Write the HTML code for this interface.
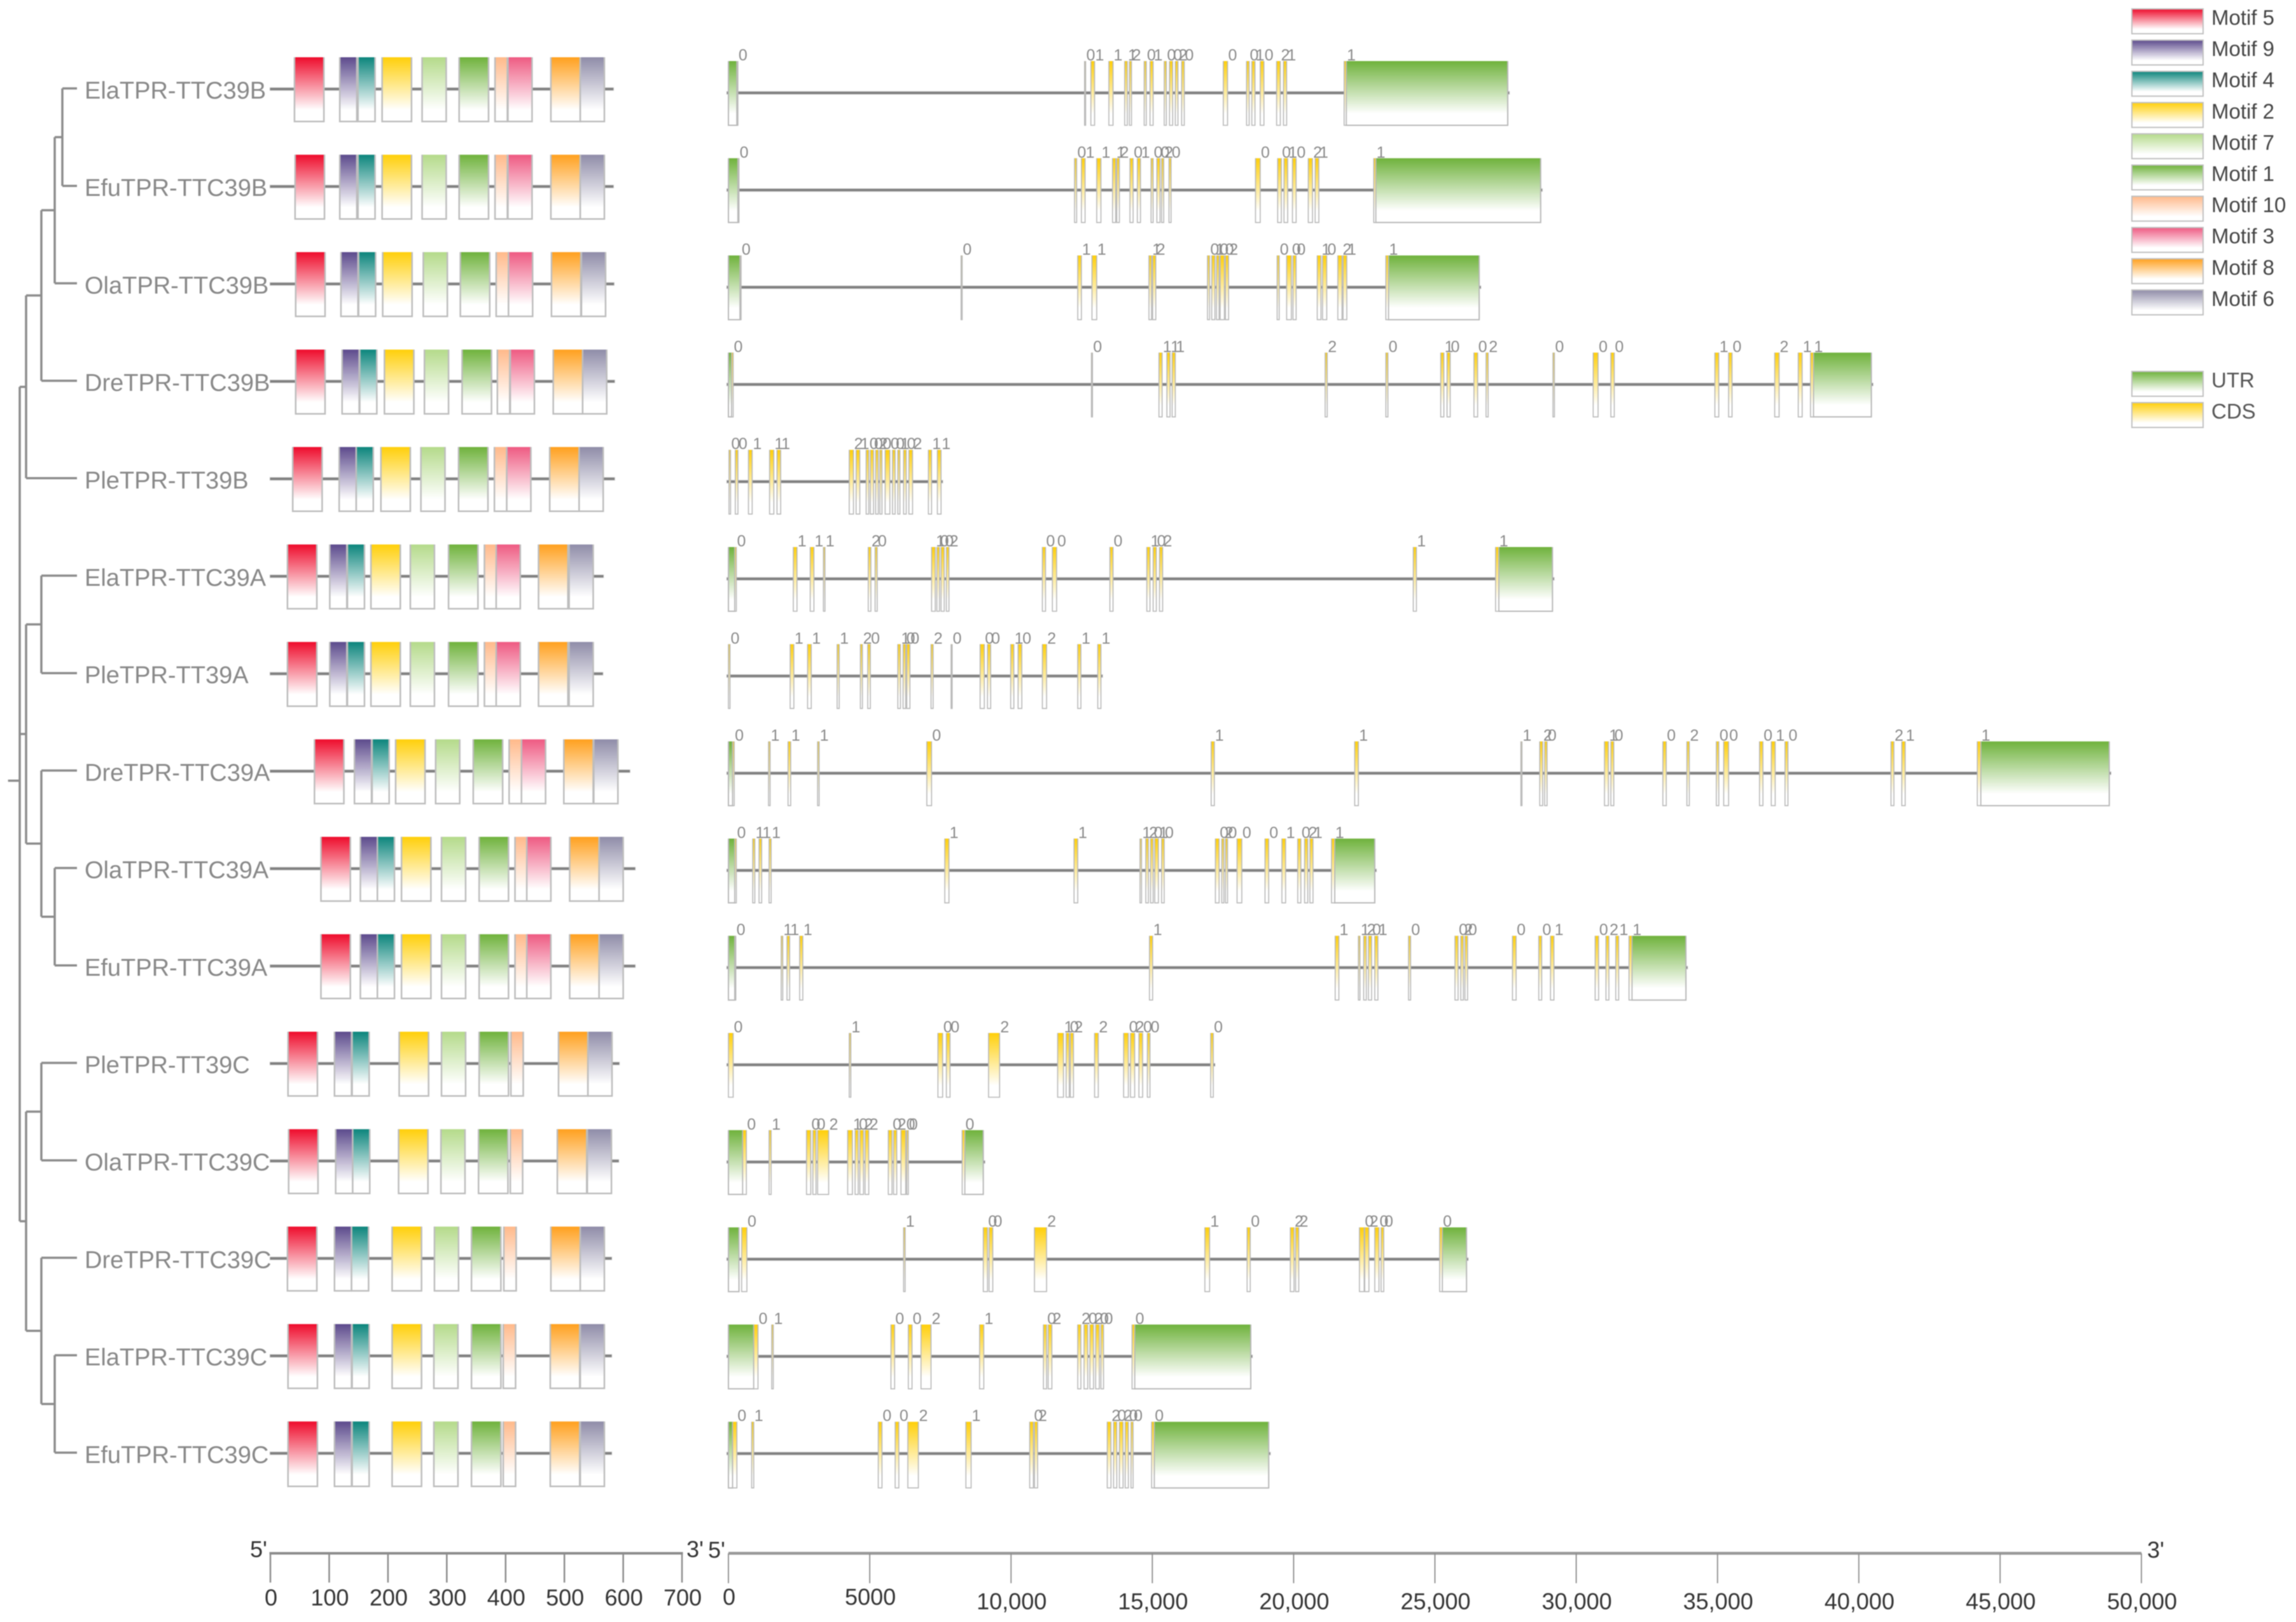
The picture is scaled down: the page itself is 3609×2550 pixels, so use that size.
<!DOCTYPE html>
<html lang="en">
<head>
<meta charset="utf-8">
<title>TTC39 gene family structure</title>
<style>
html,body{margin:0;padding:0;background:#fff;}
svg{display:block;font-family:"Liberation Sans",sans-serif;filter:blur(0.7px);}
</style>
</head>
<body>
<svg id="chart" xmlns="http://www.w3.org/2000/svg" width="3609" height="2550" viewBox="0 0 3609 2550">
<rect width="3609" height="2550" fill="#ffffff"/>
<defs id="grads"></defs>
</svg>
<script>
const geneNames = ['ElaTPR-TTC39B','EfuTPR-TTC39B','OlaTPR-TTC39B','DreTPR-TTC39B','PleTPR-TT39B','ElaTPR-TTC39A','PleTPR-TT39A','DreTPR-TTC39A','OlaTPR-TTC39A','EfuTPR-TTC39A','PleTPR-TT39C','OlaTPR-TTC39C','DreTPR-TTC39C','ElaTPR-TTC39C','EfuTPR-TTC39C'];

const motifIds = ['5','9','4','2','7','1','10','3','8','6'];
const motifLengths = [50,29,29,50,41,50,21,41,50,41];
const motifColors = ['#ee0c2c','#5c4a8c','#0c857c','#ffcf0a','#b4da8a','#6fb23c','#ffb98a','#ee5a82','#ffa01e','#8f8ca8'];
const proteinLengths = [584,584,585,586,586,567,566,612,621,621,594,593,581,581,581];
const motifStarts = [
[41,118,149,190,258,321,382,404,477,527],
[42,118,149,190,258,321,382,404,477,527],
[43,120,150,191,260,323,384,405,478,529],
[43,122,152,194,262,326,386,408,481,531],
[38,117,146,188,256,320,381,402,475,525],
[29,101,131,171,238,303,364,384,456,508],
[29,101,131,171,238,303,364,384,456,508],
[75,143,173,213,281,345,406,427,499,550],
[86,153,182,223,291,355,416,436,509,559],
[86,153,182,223,291,355,416,436,509,559],
[30,109,139,219,291,355,409,null,490,540],
[31,111,140,218,290,354,408,null,488,539],
[29,109,138,207,279,342,397,null,477,527],
[30,109,139,207,278,342,396,null,476,527],
[30,109,139,207,278,342,396,null,476,527]
];

const exonsElaB = [[299,336,0],[12602,12640,0],[12826,12957,1],[13461,13610,1],[14021,14115,1],[14189,14264,2],[14712,14787,0],[14918,15029,1],[15421,15496,0],[15608,15720,0],[15813,15907,2],[16037,16131,0],[17512,17662,0],[18334,18427,0],[18521,18633,1],[18819,18950,0],[19398,19529,2],[19641,19753,1],[21788,21862,1]];
const exonsEfuB = [[336,373,0],[12247,12322,0],[12490,12621,1],[13032,13181,1],[13592,13704,1],[13741,13834,2],[14208,14320,0],[14469,14581,1],[14955,15029,0],[15160,15272,0],[15328,15403,2],[15589,15664,0],[18651,18819,0],[19435,19566,0],[19659,19790,1],[19958,20089,0],[20518,20668,2],[20761,20892,1],[22834,22908,1]];
const exonsOlaB = [[411,448,0],[8233,8271,0],[12360,12490,1],[12864,13032,1],[14880,14973,1],[15011,15123,2],[16952,17027,0],[17102,17214,1],[17270,17363,0],[17400,17550,0],[17587,17699,2],[19417,19491,0],[19753,19921,0],[19977,20089,0],[20836,20967,1],[21023,21172,0],[21564,21713,2],[21750,21881,1],[23263,23356,1]];
const exonsDreB = [[112,168,0],[12845,12882,0],[15235,15347,1],[15515,15627,1],[15701,15813,1],[21116,21190,2],[23263,23337,0],[25205,25317,1],[25429,25541,0],[26381,26512,0],[26810,26885,2],[29177,29229,0],[30600,30774,0],[31225,31347,0],[34906,35045,1],[35392,35514,0],[37024,37180,2],[37857,37996,1],[38291,38395,1]];
const exonsPleB = [[19,75,0],[243,336,0],[709,840,1],[1456,1606,1],[1718,1848,1],[4275,4425,2],[4518,4649,1],[4873,4966,0],[5022,5134,0],[5209,5302,2],[5358,5433,0],[5545,5713,0],[5806,5900,0],[5993,6068,1],[6198,6292,0],[6385,6516,2],[7076,7188,1],[7393,7524,1]];
const exonsElaA = [[224,280,0],[2296,2427,1],[2894,3025,1],[3361,3417,1],[4948,5041,2],[5190,5265,0],[7188,7319,1],[7375,7468,0],[7524,7636,0],[7711,7804,2],[11109,11221,0],[11463,11613,0],[13498,13610,0],[14805,14918,1],[15029,15141,0],[15253,15365,2],[24234,24345,1],[27146,27258,1]];
const exonsPleA = [[0,56,0],[2184,2315,1],[2800,2931,1],[3846,3921,1],[4668,4742,2],[4929,5022,0],[5993,6086,1],[6180,6273,0],[6310,6422,0],[7169,7244,2],[7879,7916,0],[8906,9055,0],[9167,9279,0],[9988,10100,1],[10250,10381,0],[11109,11258,2],[12360,12472,1],[13069,13181,1]];
const exonsDreA = [[149,205,0],[1419,1475,1],[2110,2203,1],[3155,3211,1],[7020,7188,0],[17083,17195,1],[22161,22292,1],[28042,28080,1],[28708,28813,2],[28882,28969,0],[31000,31139,1],[31225,31330,0],[33066,33187,0],[33916,34003,2],[34958,35045,0],[35218,35392,0],[36486,36607,0],[36902,37041,1],[37388,37492,0],[41138,41242,2],[41520,41642,1],[44193,44315,1]];
const exonsOlaA = [[224,280,0],[859,934,1],[1083,1176,1],[1438,1512,1],[7655,7804,1],[12229,12360,1],[14563,14619,1],[14768,14861,2],[14936,15029,0],[15085,15216,1],[15328,15421,0],[17232,17363,0],[17456,17531,2],[17587,17662,0],[17998,18166,0],[18987,19118,0],[19585,19716,1],[20145,20257,0],[20388,20500,2],[20575,20687,1],[21340,21452,1]];
const exonsEfuA = [[224,261,0],[1867,1923,1],[2072,2166,1],[2520,2632,1],[14899,15011,1],[21471,21601,1],[22292,22348,1],[22479,22572,2],[22647,22759,0],[22871,22983,1],[24066,24140,0],[25709,25821,0],[25914,26007,2],[26063,26156,0],[27744,27874,0],[28674,28778,0],[29090,29212,1],[30670,30792,0],[31052,31156,2],[31399,31503,1],[31868,31972,1]];
const exonsPleC = [[0,168,0],[4275,4331,1],[7412,7580,0],[7711,7841,0],[9204,9596,2],[11650,11856,1],[11949,12061,0],[12098,12210,2],[12957,13088,2],[13984,14152,0],[14226,14376,2],[14525,14656,0],[14824,14917,0],[17064,17158,0]];
const exonsOlaC = [[504,635,0],[1438,1512,1],[2763,2913,0],[2987,3099,0],[3155,3547,2],[4219,4387,1],[4481,4593,0],[4649,4780,2],[4836,4966,2],[5657,5788,0],[5844,5956,2],[6105,6273,0],[6310,6366,0],[8271,8364,0]];
const exonsDreC = [[467,653,0],[6198,6254,1],[9018,9167,0],[9223,9354,0],[10829,11258,2],[16859,17027,1],[18353,18465,0],[19883,20014,2],[20070,20182,2],[22329,22497,0],[22516,22665,2],[22871,23020,0],[23095,23189,0],[25167,25261,0]];
const exonsElaC = [[896,1046,0],[1531,1587,1],[5750,5881,0],[6366,6497,0],[6815,7169,2],[8887,9036,1],[11146,11258,0],[11314,11445,2],[12360,12472,2],[12584,12714,0],[12789,12920,2],[12994,13125,0],[13181,13274,0],[14283,14376,0]];
const exonsEfuC = [[149,299,0],[821,896,1],[5302,5433,0],[5900,6030,0],[6348,6721,2],[8402,8588,1],[10660,10791,0],[10829,10941,2],[13405,13536,2],[13629,13741,0],[13834,13965,2],[14040,14152,0],[14245,14320,0],[14974,15067,0]];
const geneExons = [exonsElaB,exonsEfuB,exonsOlaB,exonsDreB,exonsPleB,exonsElaA,exonsPleA,exonsDreA,exonsOlaA,exonsEfuA,exonsPleC,exonsOlaC,exonsDreC,exonsElaC,exonsEfuC];
const utr5 = [[0,299],[0,336],[0,411],[0,112],null,[0,224],null,[0,149],[0,224],[0,224],null,[0,504],[0,373],[0,896],[0,149]];
const utr3 = [[21862,27576],[22908,28742],[23356,26567],[38395,40444],null,[27258,29160],null,[44315,48863],[21452,22871],[31972,33882],null,[8364,9018],[25261,26119],[14376,18483],[15067,19118]];

const proteinTicks = [0,100,200,300,400,500,600,700];
const proteinTickLabels = ['0','100','200','300','400','500','600','700'];
const geneTicks = [0,5000,10000,15000,20000,25000,30000,35000,40000,45000,50000];
const geneTickLabels = ['0','5000','10,000','15,000','20,000','25,000','30,000','35,000','40,000','45,000','50,000'];
const legendMotifLabels = ['Motif 5','Motif 9','Motif 4','Motif 2','Motif 7','Motif 1','Motif 10','Motif 3','Motif 8','Motif 6'];
const legendGeneLabels = ['UTR','CDS'];
const legendGeneColors = ['#6fb23c','#ffcf0a'];

/* tree topology: [depth, children...]; a number child is a gene row */
const treeTopology = [0,
  [10,[34,[55,[67,0,1],2],3],4],
  [10,[34,5,6],[34,7,[55,8,9]]],
  [10,[34,10,11],[34,12,[55,13,14]]]
];

const NS = 'http://www.w3.org/2000/svg';
const svg = document.getElementById('chart');
const defs = document.getElementById('grads');
function xGene(bp){ return 1145 + bp * 0.04442; }
function xMotif(aa){ return 425 + aa * 0.9243; }
function xTree(d){ return 31 + d; }
function geneTop(i){ return 96 + 152.8 * i; }
function motifTop(i){ return 90 + 153.2 * i; }
function make(tag, attrs, parent){
  const el = document.createElementNS(NS, tag);
  for (const k in attrs) el.setAttribute(k, attrs[k]);
  (parent || svg).appendChild(el);
  return el;
}
function gradId(color){
  const id = 'g' + color.slice(1);
  if (!document.getElementById(id)) {
    const g = make('linearGradient', {id:id, x1:0, y1:0, x2:0, y2:1}, defs);
    make('stop', {offset:'0', 'stop-color':color}, g);
    make('stop', {offset:'0.82', 'stop-color':'#ffffff'}, g);
    make('stop', {offset:'1', 'stop-color':'#ffffff'}, g);
  }
  return 'url(#' + id + ')';
}
function boxPath(x0, x1, top, h){
  return 'M' + x0 + ' ' + top + 'V' + (top + h) + 'H' + x1 + 'V' + top;
}

/* tree */
const treeGroup = make('g', {stroke:'#8c8c8c', 'stroke-width':3.5, fill:'none'});


function drawNode(node){
  if (typeof node === 'number') return {y: motifTop(node) + 49, leaf: true};
  const x = xTree(node[0]);
  const kids = node.slice(1).map(drawNode);
  const ys = kids.map(k => k.y);
  const branch = make('path', {d:'M' + x + ' ' + Math.min(...ys) + 'V' + Math.max(...ys)}, treeGroup);
  
  
  node.slice(1).forEach((child, n) => {
    const endX = typeof child === 'number' ? 121 : xTree(child[0]);
    const h = make('path', {d:'M' + x + ' ' + ys[n] + 'H' + endX}, treeGroup);
    
    
  });
  return {y: ys.reduce((a, b) => a + b, 0) / ys.length};
}
const rootInfo = drawNode(treeTopology);
const rootStub = make('path', {d:'M12.6 ' + rootInfo.y + 'H' + xTree(treeTopology[0])}, treeGroup);



/* gene names and motif rows */
geneNames.forEach((name, i) => {
  const top = motifTop(i);
  const label = make('text', {x:133, y:top + 65, 'font-size':38, fill:'#888888'});
  label.textContent = name;
  
  

  const line = make('rect', {x:xMotif(0) - 1, y:top + 47.5, width:xMotif(proteinLengths[i]) - xMotif(0) + 1, height:5, fill:'#808080', stroke:'#e6e6e6', 'stroke-width':1});
  
  

  motifStarts[i].forEach((start, m) => {
    if (start === null) return;
    const box = make('path', {
      d: boxPath(xMotif(start), xMotif(start + motifLengths[m]), top, i === 14 ? 102 : 101),
      fill: gradId(motifColors[m]), stroke:'#bdbdbd', 'stroke-width':2.5
    });
    
    
  });
});

/* gene structures */
geneExons.forEach((exons, i) => {
  const top = geneTop(i);
  const boxH = i === 14 ? 104 : 101;
  const lastExon = exons[exons.length - 1][1];
  const endBp = utr3[i] ? utr3[i][1] : lastExon;
  const line = make('rect', {x:xGene(0) - 3, y:top + 47.5, width:xGene(endBp) - xGene(0) + 6, height:5, fill:'#808080', stroke:'#e6e6e6', 'stroke-width':1});
  
  

  [utr5[i], utr3[i]].forEach(seg => {
    if (!seg) return;
    const box = make('path', {
      d: boxPath(xGene(seg[0]), xGene(seg[1]), top, boxH),
      fill: gradId('#6fb23c'), stroke:'#b8b8b8', 'stroke-width':2
    });
    
    
  });
  exons.forEach(ex => {
    const box = make('path', {
      d: boxPath(xGene(ex[0]), xGene(ex[1]), top, boxH),
      fill: gradId('#ffcf0a'), stroke:'#b8b8b8', 'stroke-width':1.6
    });
    
    
  });
  exons.forEach(ex => {
    const phase = make('text', {x:xGene(ex[1]) + 1, y:top - 1, 'font-size':25, fill:'#8a8a8a'});
    phase.textContent = String(ex[2]);
    
    
  });
});

/* protein axis */
const AXIS_Y = 2442;
const protLine = make('rect', {x:xMotif(0) - 1.5, y:AXIS_Y - 2, width:xMotif(700) - xMotif(0) + 3, height:4, fill:'#8c8c8c'});


proteinTicks.forEach((t, i) => {
  const tick = make('rect', {x:xMotif(t) - 1.25, y:AXIS_Y, width:2.5, height:46, fill:'#8c8c8c'});
  
  
  const lab = make('text', {x:xMotif(t) + 1, y:2524, 'font-size':36, fill:'#333333', 'text-anchor':'middle'});
  lab.textContent = proteinTickLabels[i];
  
  
});
const prot5 = make('text', {x:393, y:2448, 'font-size':36, fill:'#333333'});
prot5.textContent = "5'";


const prot3 = make('text', {x:1079, y:2448, 'font-size':36, fill:'#333333'});
prot3.textContent = "3'";



/* gene axis */
const geneLine = make('rect', {x:xGene(0), y:AXIS_Y - 2.25, width:xGene(50000) - xGene(0), height:4.5, fill:'#999999'});


geneTicks.forEach((t, i) => {
  const tick = make('rect', {x:xGene(t) - 0.9, y:AXIS_Y, width:1.8, height:47, fill:'#8c8c8c'});
  
  
  const hasComma = geneTickLabels[i].indexOf(',') >= 0;
  const lab = make('text', {x:xGene(t) + 1, y:hasComma ? 2530 : 2523, 'font-size':36, fill:'#333333', 'text-anchor':'middle'});
  lab.textContent = geneTickLabels[i];
  
  
});
const gene5 = make('text', {x:1113, y:2449, 'font-size':36, fill:'#333333'});
gene5.textContent = "5'";


const gene3 = make('text', {x:3375, y:2449, 'font-size':36, fill:'#333333'});
gene3.textContent = "3'";



/* legends */
legendMotifLabels.forEach((text, i) => {
  const top = 14 + 49.1 * i;
  const sw = make('rect', {x:3351, y:top, width:112, height:39, fill:gradId(motifColors[i]), stroke:'#c0c0c0', 'stroke-width':2});
  
  
  const lab = make('text', {x:3476, y:top + 25, 'font-size':33, fill:'#444444'});
  lab.textContent = text;
  
  
});
legendGeneLabels.forEach((text, i) => {
  const top = 584 + 49 * i;
  const sw = make('rect', {x:3351, y:top, width:112, height:39, fill:gradId(legendGeneColors[i]), stroke:'#c0c0c0', 'stroke-width':2});
  
  
  const lab = make('text', {x:3476, y:top + 25, 'font-size':33, fill:'#555555'});
  lab.textContent = text;
  
  
});
</script>
</body>
</html>
